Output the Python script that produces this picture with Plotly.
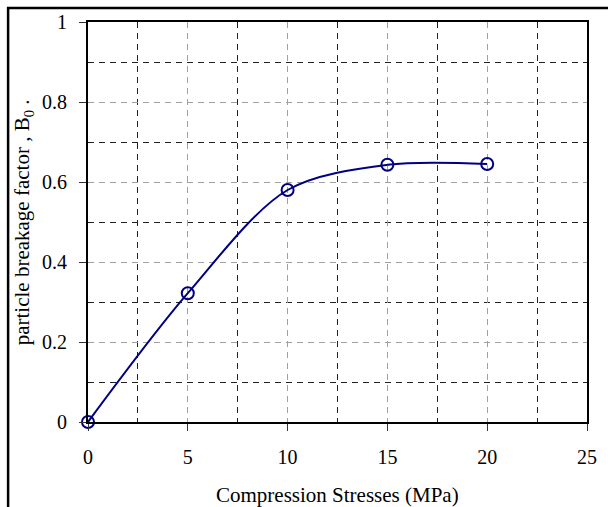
import plotly.graph_objects as go

# Compression stress (MPa) and particle breakage factor B0
stress_mpa = [0, 5, 10, 15, 20]
breakage_b0 = [0.0, 0.322, 0.580, 0.643, 0.645]

x_ticks = [0, 5, 10, 15, 20, 25]
y_ticks = [0, 0.2, 0.4, 0.6, 0.8, 1]
y_tick_text = ["0", "0.2", "0.4", "0.6", "0.8", "1"]

FONT = "Liberation Serif, Times New Roman, serif"
NAVY = "#000080"

fig = go.Figure()
fig.add_trace(go.Scatter(
    x=stress_mpa,
    y=breakage_b0,
    mode="lines+markers",
    line=dict(color=NAVY, width=2, shape="spline", smoothing=0.9),
    marker=dict(symbol="circle-open", size=12, color=NAVY,
                line=dict(color=NAVY, width=2)),
    cliponaxis=False,
    showlegend=False,
    hoverinfo="skip",
))

axis_common = dict(
    showline=True, linecolor="black", linewidth=2, mirror=True,
    ticks="outside", ticklen=7, tickwidth=1, tickcolor="#333",
    showgrid=True, gridcolor="#a0a0a0", gridwidth=1, griddash="6px,5px",
    zeroline=False,
    tickfont=dict(family=FONT, size=20, color="black"),
)

fig.update_xaxes(
    range=[0, 25], tickvals=x_ticks, ticklabelstandoff=9,
    minor=dict(dtick=2.5, tick0=0, showgrid=True, gridcolor="#222",
               gridwidth=1, griddash="6px,5px", ticks=""),
    **axis_common,
)
fig.update_yaxes(
    range=[0, 1], tickvals=y_ticks, ticktext=y_tick_text, ticklabelstandoff=8,
    minor=dict(dtick=0.1, tick0=0, showgrid=True, gridcolor="#222",
               gridwidth=1, griddash="6px,5px", ticks=""),
    **axis_common,
)

plot_w = 509
plot_h = 401
left, top = 88, 21

def px_x(p):
    return (p - left) / plot_w

def px_y(p):
    return (top + plot_h - p) / plot_h

fig.add_annotation(
    text="Compression Stresses (MPa)",
    xref="paper", yref="paper", x=0.5, y=px_y(495),
    xanchor="center", yanchor="middle", showarrow=False,
    font=dict(family=FONT, size=21, color="black"),
)
fig.add_annotation(
    text="particle breakage factor , B<sub>0</sub> .",
    xref="paper", yref="paper", x=px_x(22), y=0.5,
    xanchor="center", yanchor="middle", textangle=-90, showarrow=False,
    font=dict(family=FONT, size=21, color="black"),
)

# outer frame around the whole figure
fig.add_shape(
    type="rect", xref="paper", yref="paper",
    x0=px_x(6.5), x1=px_x(640), y0=px_y(540), y1=px_y(7),
    line=dict(color="black", width=2.5), fillcolor="rgba(0,0,0,0)",
    layer="above",
)

fig.update_layout(
    width=608, height=507,
    margin=dict(l=left, r=608 - left - plot_w, t=top, b=507 - top - plot_h),
    paper_bgcolor="white", plot_bgcolor="white",
    font=dict(family=FONT, color="black"),
)

fig.write_html("out.html")
